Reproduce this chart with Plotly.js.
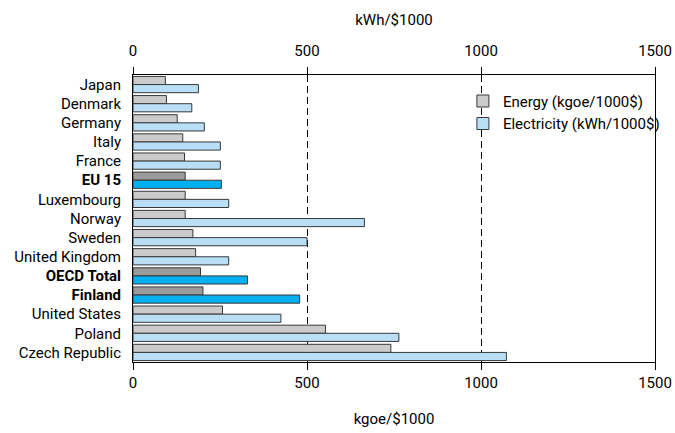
<!DOCTYPE html>
<html>
<head>
<meta charset="utf-8">
<script src="https://cdn.plot.ly/plotly-3.0.1.min.js"></script>
<style>html,body{margin:0;padding:0;background:#fff;}#chart{width:675px;height:433px;}</style>
</head>
<body>
<div id="chart"></div>
<script>
const categories = ["Japan","Denmark","Germany","Italy","France","EU 15","Luxembourg","Norway","Sweden","United Kingdom","OECD Total","Finland","United States","Poland","Czech Republic"];
const energy = [93, 96, 127, 143, 148, 150, 150, 150, 172, 180, 194, 201, 257, 553, 741];
const electricity = [188, 169, 205, 251, 251, 254, 275, 665, 500, 275, 329, 479, 425, 764, 1073];
const highlighted = ["EU 15", "OECD Total", "Finland"];
const tickLabels = categories.map(c => highlighted.includes(c) ? "<b>" + c + "</b>" : c);

const FONT = "Roboto, 'Liberation Sans', Arial, sans-serif";
const isHi = categories.map(c => highlighted.includes(c));

const traces = [
  {
    type: "bar", orientation: "h", name: "Energy (kgoe/1000$)",
    y: categories, x: energy, xaxis: "x", yaxis: "y",
    offset: -0.425, width: 0.425,
    marker: { color: isHi.map(h => h ? "#9b9b9b" : "#cbcbcb"), line: { color: "#383838", width: 1 } },
    hoverinfo: "x+y"
  },
  {
    type: "bar", orientation: "h", name: "Electricity (kWh/1000$)",
    y: categories, x: electricity, xaxis: "x2", yaxis: "y",
    offset: 0, width: 0.425,
    marker: { color: isHi.map(h => h ? "#00b0f0" : "#b9dff7"), line: { color: "#383838", width: 1 } },
    hoverinfo: "x+y"
  }
];

const axisCommon = {
  range: [0, 1500], tickvals: [0, 500, 1000, 1500], ticks: "outside", ticklen: 7,
  tickcolor: "#000", showline: true, linecolor: "#000", linewidth: 1,
  tickfont: { family: FONT, size: 15, color: "#000" }, zeroline: false, fixedrange: true
};

const layout = {
  width: 675, height: 433,
  margin: { l: 133, r: 20, t: 75, b: 71, autoexpand: false },
  paper_bgcolor: "#fff", plot_bgcolor: "#fff",
  font: { family: FONT, size: 15, color: "#000" },
  barmode: "overlay",
  xaxis: Object.assign({}, axisCommon, {
    side: "bottom", showgrid: true, gridcolor: "#000", griddash: "7px,4px", gridwidth: 1,
    ticklabelstandoff: 0,
    title: { text: "kgoe/$1000", font: { family: FONT, size: 15 }, standoff: 22 }
  }),
  xaxis2: Object.assign({}, axisCommon, {
    side: "top", overlaying: "x", showgrid: false, ticklabelstandoff: 5,
    title: { text: "kWh/$1000", font: { family: FONT, size: 15 }, standoff: 12 }
  }),
  yaxis: {
    type: "category", autorange: false, range: [categories.length - 0.5, -0.5],
    tickvals: categories, ticktext: tickLabels, ticks: "", showline: true, mirror: true,
    linecolor: "#000", linewidth: 1, showgrid: false, zeroline: false, ticklabelstandoff: 8,
    tickfont: { family: FONT, size: 15, color: "#000" }, fixedrange: true
  },
  legend: {
    x: 0.632, y: 0.966, xanchor: "left", yanchor: "top",
    bgcolor: "rgba(0,0,0,0)", font: { family: FONT, size: 15, color: "#000" },
    tracegroupgap: 0, itemwidth: 30
  },
  showlegend: true
};

Plotly.newPlot("chart", traces, layout, { displayModeBar: false, staticPlot: true });
</script>
</body>
</html>
